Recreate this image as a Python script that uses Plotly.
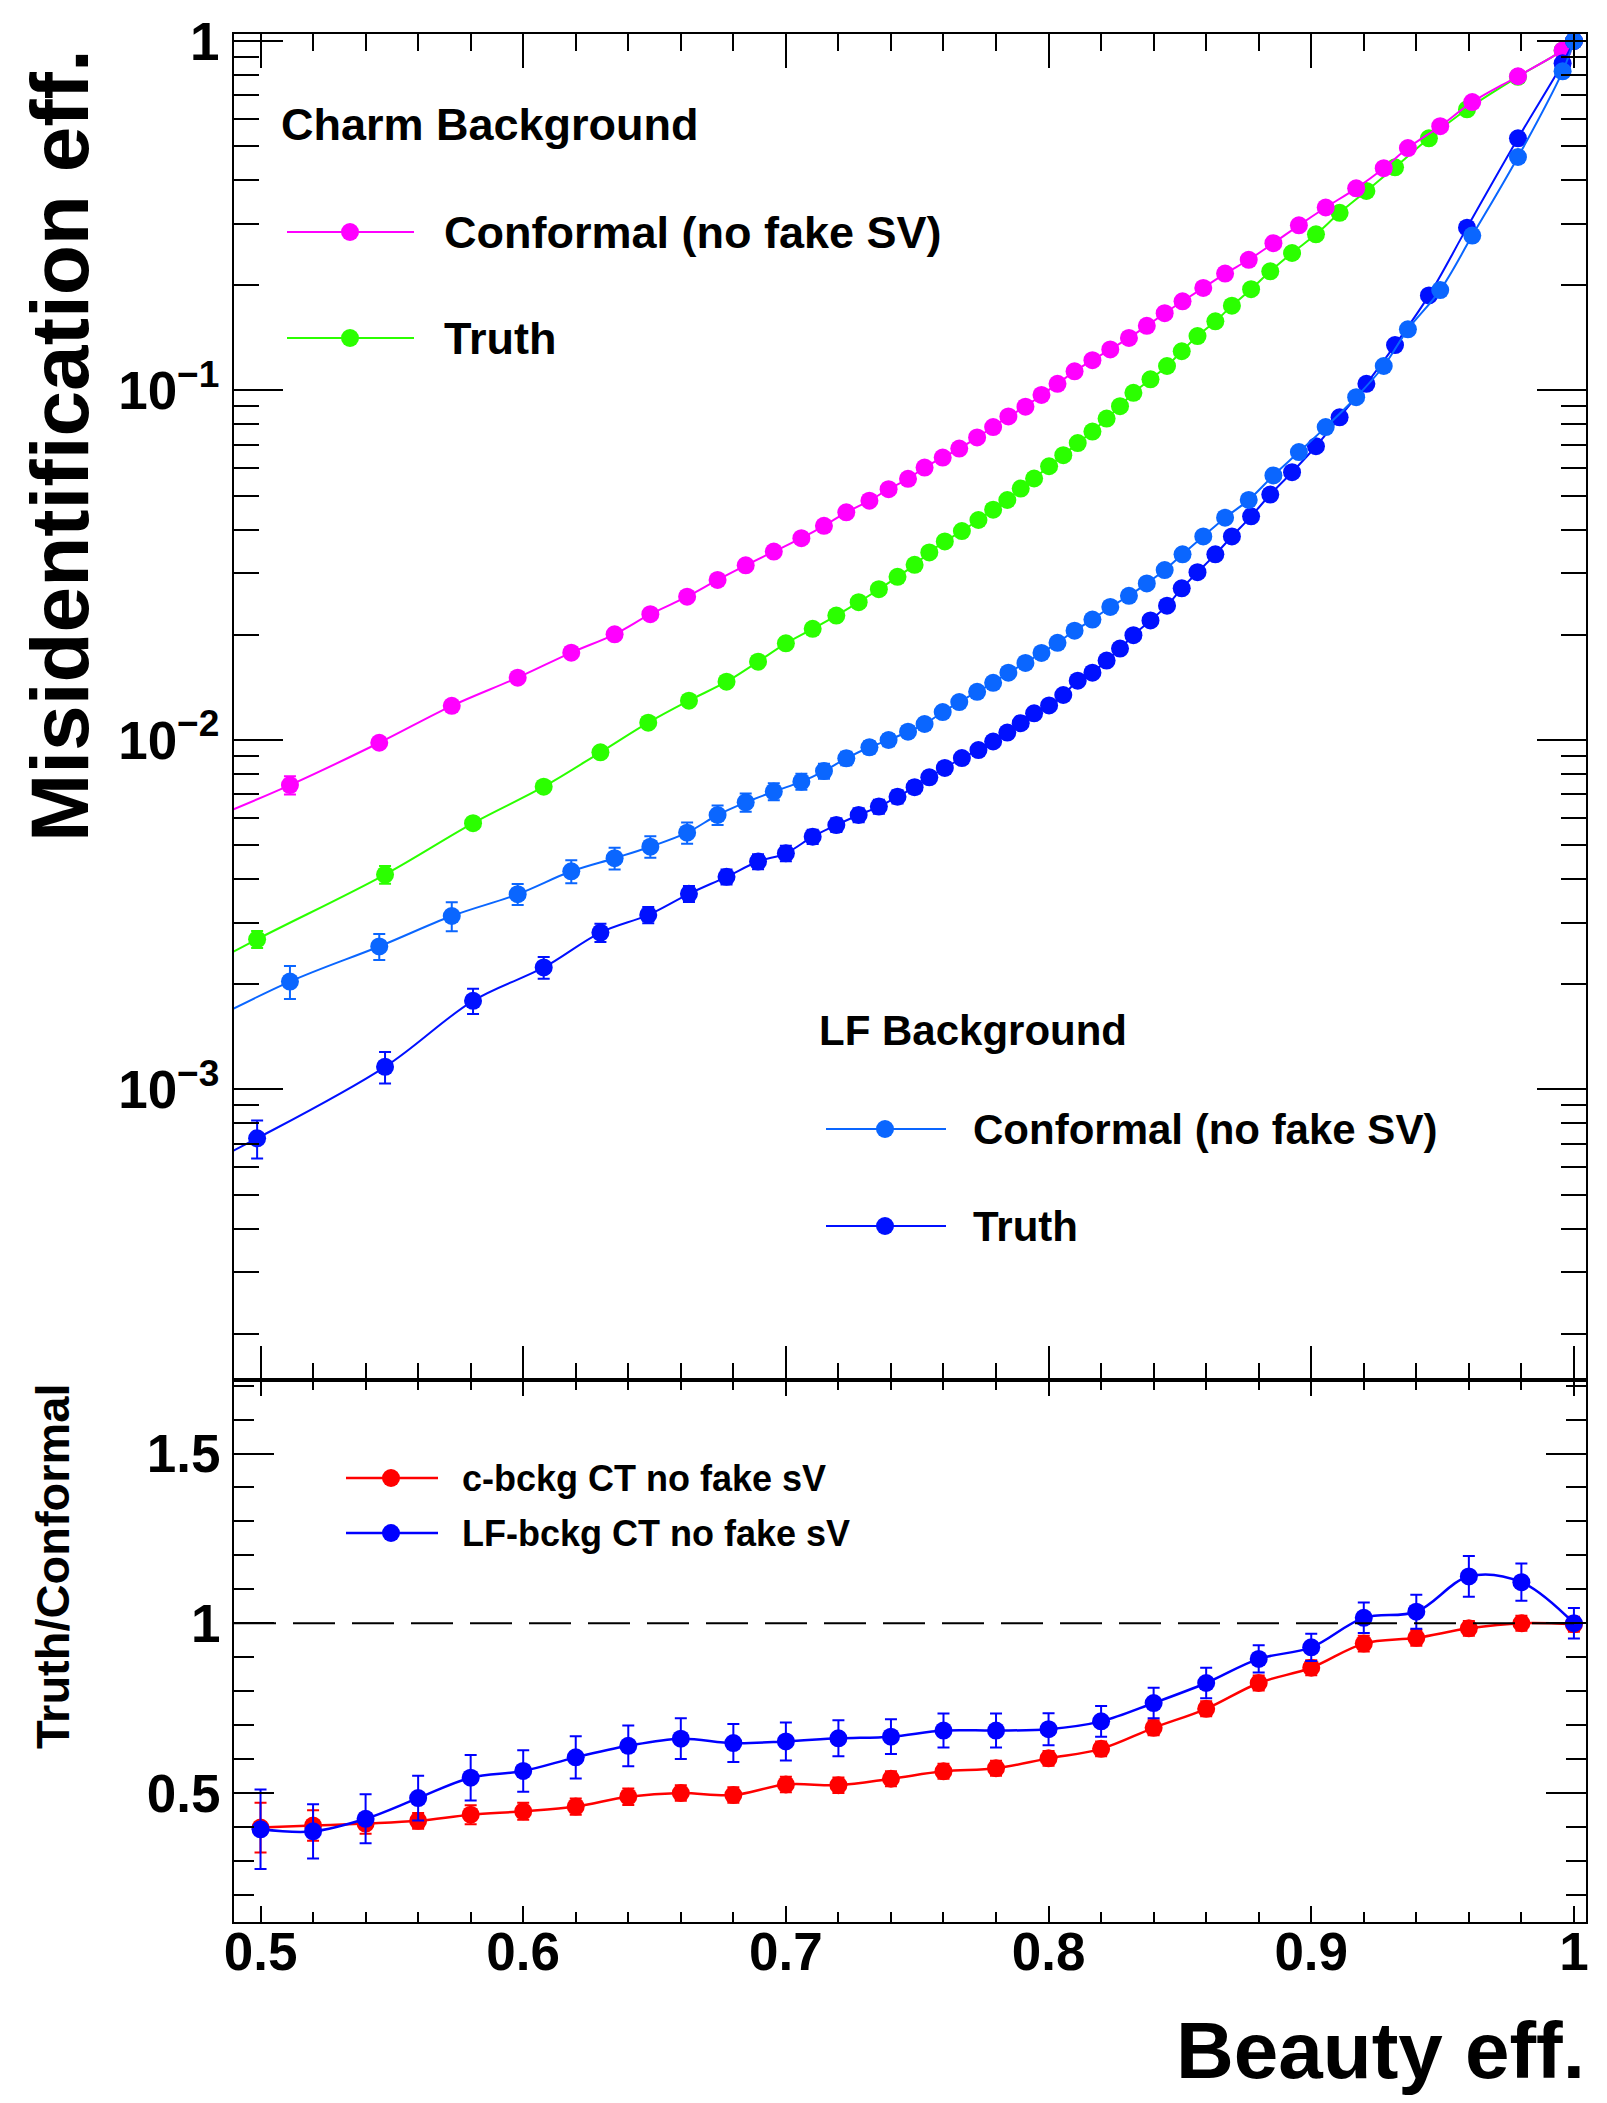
import plotly.graph_objects as go

FONT = "Liberation Sans"

# ---------------- data ----------------
# Conformal working points (beauty efficiency shared by charm & LF curves)
x_conformal = [0.47, 0.5112, 0.5452, 0.5728, 0.5979, 0.6183, 0.6348, 0.6484, 0.6624, 0.6740,
               0.6847, 0.6954, 0.7059, 0.7145, 0.7230, 0.7318, 0.7391, 0.7465, 0.7528, 0.7597,
               0.7660, 0.7728, 0.7789, 0.7847, 0.7912, 0.7973, 0.8034, 0.8099, 0.8167, 0.8235,
               0.8306, 0.8374, 0.8442, 0.8510, 0.8589, 0.8672, 0.8762, 0.8856, 0.8953, 0.9055,
               0.9171, 0.9276, 0.9368, 0.9491, 0.9613, 0.9787, 0.9957, 1.0]
charm_conformal = [0.0055, 0.00743, 0.00982, 0.01252, 0.01508, 0.01778, 0.02006, 0.0229, 0.0257, 0.0287,
                   0.0316, 0.0346, 0.0378, 0.0410, 0.0448, 0.0484, 0.0522, 0.0559, 0.0602, 0.0643,
                   0.0682, 0.0734, 0.0786, 0.0843, 0.0899, 0.0971, 0.1045, 0.1135, 0.1221, 0.1311,
                   0.1414, 0.1531, 0.1664, 0.1800, 0.1966, 0.2160, 0.2366, 0.2639, 0.2969, 0.3339,
                   0.3789, 0.4325, 0.4939, 0.5703, 0.6685, 0.7927, 0.940, 1.0]
charm_conformal_err = [0.0, 0.00045, 0.0003, 0.0003, 0.0003, 0.0003, 0.0003, 0.0003, 0.0003, 0.0003,
                       0.0003, 0.0003, 0.0003, 0.0003, 0.0003, 0.0003, 0.0003, 0.0003, 0.0003, 0.0003,
                       0.0003, 0.0003, 0.0003, 0.0003, 0.0003, 0.0003, 0.0003, 0.0003, 0.0003, 0.0003,
                       0.0003, 0.0003, 0.0003, 0.0003, 0.0003, 0.0003, 0.0003, 0.0003, 0.0003, 0.0003,
                       0.0003, 0.0003, 0.0003, 0.0003, 0.0003, 0.0003, 0.0003, 0.0]
lf_conformal = [0.00143, 0.002036, 0.002566, 0.003136, 0.00362, 0.00421, 0.00459, 0.00495, 0.00543, 0.00610,
                0.00663, 0.00712, 0.00760, 0.00815, 0.00886, 0.00953, 0.0100, 0.01056, 0.01111, 0.01202,
                0.01284, 0.01373, 0.01457, 0.01558, 0.01662, 0.01774, 0.01897, 0.02055, 0.02211, 0.02402,
                0.02585, 0.02806, 0.03064, 0.03398, 0.03823, 0.04325, 0.04864, 0.05715, 0.06664, 0.07857,
                0.09568, 0.1175, 0.1496, 0.1938, 0.2774, 0.4657, 0.8190, 1.0]
lf_conformal_err = [0.0, 0.00022, 0.00022, 0.0003, 0.00025, 0.00032, 0.00033, 0.00035, 0.00038, 0.00039,
                    0.0004, 0.0004, 0.0004, 0.0004, 0.0004, 0.0004, 0.0004, 0.0004, 0.0004, 0.0004,
                    0.0004, 0.0004, 0.0004, 0.0004, 0.0004, 0.0004, 0.0004, 0.0004, 0.0004, 0.0004,
                    0.0004, 0.0004, 0.0004, 0.0004, 0.0004, 0.0004, 0.0004, 0.0004, 0.0004, 0.0004,
                    0.0004, 0.0004, 0.0004, 0.0004, 0.0004, 0.0004, 0.0004, 0.0]

# Truth working points
x_truth = [0.47, 0.4987, 0.5474, 0.5809, 0.6078, 0.6294, 0.6476, 0.6631, 0.6774, 0.6894,
           0.7000, 0.7102, 0.7192, 0.7277, 0.7354, 0.7425, 0.7490, 0.7546, 0.7605, 0.7670,
           0.7733, 0.7789, 0.7843, 0.7894, 0.7945, 0.8002, 0.8056, 0.8111, 0.8167, 0.8221,
           0.8272, 0.8323, 0.8388, 0.8451, 0.8507, 0.8567, 0.8635, 0.8698, 0.8771, 0.8844,
           0.8927, 0.9018, 0.9108, 0.9210, 0.9319, 0.9448, 0.9593, 0.9787, 0.9957, 1.0]
charm_truth = [0.00207, 0.00269, 0.00412, 0.00578, 0.00735, 0.00922, 0.01121, 0.01296, 0.01468, 0.01675,
               0.0189, 0.0208, 0.0227, 0.0248, 0.0270, 0.0293, 0.0317, 0.0344, 0.0370, 0.0396,
               0.0426, 0.0456, 0.0486, 0.0524, 0.0560, 0.0607, 0.0653, 0.0707, 0.0763, 0.0831,
               0.0902, 0.0985, 0.1076, 0.1175, 0.1295, 0.1431, 0.1577, 0.1748, 0.1949, 0.2193,
               0.2474, 0.2798, 0.3223, 0.3723, 0.4350, 0.5266, 0.6376, 0.79, 0.94, 1.0]
charm_truth_err = [0.0, 0.00015, 0.00024, 0.0002, 0.0002, 0.00022, 0.00025, 0.00028, 0.0003, 0.0003,
                   0.0003, 0.0003, 0.0003, 0.0003, 0.0003, 0.0003, 0.0003, 0.0003, 0.0003, 0.0003,
                   0.0003, 0.0003, 0.0003, 0.0003, 0.0003, 0.0003, 0.0003, 0.0003, 0.0003, 0.0003,
                   0.0003, 0.0003, 0.0003, 0.0003, 0.0003, 0.0003, 0.0003, 0.0003, 0.0003, 0.0003,
                   0.0003, 0.0003, 0.0003, 0.0003, 0.0003, 0.0003, 0.0003, 0.0003, 0.0003, 0.0]
lf_truth = [0.000565, 0.000725, 0.001161, 0.001793, 0.002234, 0.002812, 0.003158, 0.00363, 0.00406, 0.00449,
            0.00474, 0.00529, 0.00571, 0.00610, 0.00645, 0.00688, 0.00733, 0.00782, 0.00832, 0.00888,
            0.00936, 0.00990, 0.01050, 0.01117, 0.01192, 0.01256, 0.01345, 0.01478, 0.01558, 0.01688,
            0.01826, 0.01994, 0.02199, 0.02423, 0.02716, 0.03020, 0.03398, 0.03823, 0.04364, 0.05039,
            0.05837, 0.06925, 0.08381, 0.1045, 0.1349, 0.1871, 0.2924, 0.5266, 0.8634, 1.0]
lf_truth_err = [0.0, 0.00009, 0.00012, 0.00015, 0.00016, 0.00017, 0.00017, 0.00019, 0.0002, 0.00022,
                0.00024, 0.00025, 0.00026, 0.00028, 0.0003, 0.0003, 0.0003, 0.0003, 0.0003, 0.0003,
                0.0003, 0.0003, 0.0003, 0.0003, 0.0003, 0.0003, 0.0003, 0.0003, 0.0003, 0.0003,
                0.0003, 0.0003, 0.0003, 0.0003, 0.0003, 0.0003, 0.0003, 0.0003, 0.0003, 0.0003,
                0.0003, 0.0003, 0.0003, 0.0003, 0.0003, 0.0003, 0.0003, 0.0003, 0.0003, 0.0]

# Ratio panel
ratio_x = [0.50, 0.52, 0.54, 0.56, 0.58, 0.60, 0.62, 0.64, 0.66, 0.68, 0.70, 0.72, 0.74,
           0.76, 0.78, 0.80, 0.82, 0.84, 0.86, 0.88, 0.90, 0.92, 0.94, 0.96, 0.98, 1.00]
ratio_charm = [0.398, 0.404, 0.410, 0.418, 0.436, 0.446, 0.460, 0.489, 0.500, 0.494, 0.525, 0.523, 0.542,
               0.564, 0.573, 0.602, 0.630, 0.692, 0.748, 0.824, 0.869, 0.940, 0.957, 0.985, 1.000, 0.997]
ratio_charm_err = [0.073, 0.045, 0.03, 0.023, 0.028, 0.025, 0.024, 0.024, 0.023, 0.023, 0.023, 0.023, 0.022,
                   0.022, 0.022, 0.022, 0.022, 0.022, 0.022, 0.022, 0.022, 0.023, 0.023, 0.022, 0.022, 0.022]
ratio_lf = [0.393, 0.387, 0.424, 0.485, 0.545, 0.565, 0.605, 0.639, 0.660, 0.647, 0.652, 0.661, 0.666,
            0.684, 0.684, 0.688, 0.711, 0.765, 0.824, 0.895, 0.929, 1.016, 1.034, 1.138, 1.121, 1.000]
ratio_lf_err = [0.117, 0.08, 0.072, 0.066, 0.067, 0.061, 0.062, 0.06, 0.06, 0.056, 0.056, 0.053, 0.051,
                0.05, 0.05, 0.047, 0.045, 0.045, 0.045, 0.04, 0.04, 0.045, 0.05, 0.06, 0.055, 0.045]

x_tick_vals = [0.5, 0.6, 0.7, 0.8, 0.9, 1.0]
x_tick_text = ["0.5", "0.6", "0.7", "0.8", "0.9", "1"]
y_top_tick_vals = [1, 0.1, 0.01, 0.001]
y_top_tick_text = ["1", "10<sup>\u22121</sup>", "10<sup>\u22122</sup>", "10<sup>\u22123</sup>"]
y_bot_tick_vals = [0.5, 1.0, 1.5]
y_bot_tick_text = ["0.5", "1", "1.5"]

C_MAG = "#ff00ff"
C_GREEN = "#2bff00"
C_LBLUE = "#0a66ff"
C_DBLUE = "#0010ff"
C_RED = "#ff0000"
C_BLUE = "#0000ff"

# ---------------- geometry ----------------
# the page body has an 8px margin, so the figure is drawn 8px smaller and
# positions below are given in page pixels and shifted by OFF
OFF = 8
W, H = 1607 - OFF, 2103 - OFF
L, R, T, B = 234 - OFF, 21, 34 - OFF, 181
PW = W - L - R
PH = H - T - B
SPLIT_Y = 1379.5 - OFF
split_frac = (H - B - SPLIT_Y) / PH


def px(X):
    return (X - OFF - L) / PW


def py(Y):
    return (H - B - (Y - OFF)) / PH


fig = go.Figure()

MS = 18


def add_series(x, y, err, color, xa, ya, lw=2.0, ms=MS):
    fig.add_trace(go.Scatter(
        x=x, y=y, xaxis=xa, yaxis=ya, mode="lines+markers",
        line=dict(color=color, width=lw, shape="spline", smoothing=1.0),
        marker=dict(color=color, size=ms, symbol="circle", line=dict(width=0)),
        error_y=dict(type="data", array=err, visible=True, color=color, thickness=2, width=6),
        cliponaxis=True, showlegend=False, hoverinfo="x+y"))


add_series(x_truth, charm_truth, charm_truth_err, C_GREEN, "x", "y")
add_series(x_conformal, charm_conformal, charm_conformal_err, C_MAG, "x", "y")
add_series(x_truth, lf_truth, lf_truth_err, C_DBLUE, "x", "y")
add_series(x_conformal, lf_conformal, lf_conformal_err, C_LBLUE, "x", "y")

add_series(ratio_x, ratio_charm, ratio_charm_err, C_RED, "x2", "y2", lw=2.5)
add_series(ratio_x, ratio_lf, ratio_lf_err, C_BLUE, "x2", "y2", lw=2.5)

XR = [0.4899, 1.0046]
tickfont = dict(family=FONT, size=53, color="black", weight="bold")
common = dict(showgrid=False, zeroline=False, showline=True, linecolor="black", linewidth=2,
              mirror="allticks", ticks="inside", tickcolor="black", tickwidth=2)

minor_log = [k * 10 ** e for e in (-4, -3, -2, -1) for k in range(2, 10)]

fig.update_layout(
    width=W, height=H,
    margin=dict(l=L, r=R, t=T, b=B, autoexpand=False),
    plot_bgcolor="white", paper_bgcolor="white",
    showlegend=False,
    xaxis=dict(domain=[0, 1], anchor="y", range=XR, tickmode="array", tickvals=x_tick_vals,
               showticklabels=False, ticklen=34,
               minor=dict(ticks="inside", ticklen=17, tickwidth=2, tickcolor="black", dtick=0.02, tick0=0.5),
               **common),
    yaxis=dict(domain=[split_frac, 1], anchor="x", type="log", range=[-3.8298, 0.02],
               tickmode="array", tickvals=y_top_tick_vals, ticktext=y_top_tick_text,
               tickfont=tickfont, ticklen=49, ticklabelstandoff=2,
               minor=dict(ticks="inside", ticklen=25, tickwidth=2, tickcolor="black",
                          tickmode="array", tickvals=minor_log),
               **common),
    xaxis2=dict(domain=[0, 1], anchor="y2", range=XR, tickmode="array", tickvals=x_tick_vals,
                ticktext=x_tick_text, tickfont=tickfont, ticklen=16, ticklabelstandoff=-18,
                minor=dict(ticks="inside", ticklen=10, tickwidth=2, tickcolor="black", dtick=0.02, tick0=0.5),
                **common),
    yaxis2=dict(domain=[0, split_frac], anchor="x2", range=[0.12, 1.718],
                tickmode="array", tickvals=y_bot_tick_vals, ticktext=y_bot_tick_text,
                tickfont=tickfont, ticklen=40, ticklabelstandoff=1,
                minor=dict(ticks="inside", ticklen=20, tickwidth=2, tickcolor="black", dtick=0.1, tick0=0.0),
                **common),
)

shapes = []
annotations = []

# dashed unity line in ratio panel
shapes.append(dict(type="line", xref="x2 domain", yref="y2", x0=0, x1=1, y0=1, y1=1,
                   line=dict(color="black", width=2, dash="42px,17px")))


def legend_item(x_line0, x_line1, x_mark, y, color, text, text_x, size, lw=2.0):
    shapes.append(dict(type="line", xref="paper", yref="paper", x0=px(x_line0), x1=px(x_line1),
                       y0=py(y), y1=py(y), line=dict(color=color, width=lw)))
    shapes.append(dict(type="circle", xref="paper", yref="paper", xsizemode="pixel", ysizemode="pixel",
                       xanchor=px(x_mark), yanchor=py(y), x0=-MS / 2, x1=MS / 2, y0=-MS / 2, y1=MS / 2,
                       fillcolor=color, line=dict(width=0)))
    annotations.append(dict(xref="paper", yref="paper", x=px(text_x), y=py(y), xanchor="left",
                            yanchor="middle", showarrow=False, text=text,
                            font=dict(family=FONT, size=size, color="black", weight="bold")))


def label(x, y, text, size, xanchor="left", angle=0):
    annotations.append(dict(xref="paper", yref="paper", x=px(x), y=py(y), xanchor=xanchor,
                            yanchor="middle", showarrow=False, text=text, textangle=angle,
                            font=dict(family=FONT, size=size, color="black", weight="bold")))


# Charm legend
label(279, 125, "Charm Background", 45)
legend_item(287, 414, 350, 232, C_MAG, "Conformal (no fake SV)", 442, 45)
legend_item(287, 414, 350, 338, C_GREEN, "Truth", 442, 45)

# LF legend
label(817, 1030, "LF Background", 42)
legend_item(826, 946, 885, 1129, C_LBLUE, "Conformal (no fake SV)", 971, 42)
legend_item(826, 946, 885, 1226, C_DBLUE, "Truth", 971, 42)

# ratio legend
legend_item(346, 438, 391, 1478, C_RED, "c-bckg CT no fake sV", 460, 36, lw=2.5)
legend_item(346, 438, 391, 1533, C_BLUE, "LF-bckg CT no fake sV", 460, 36, lw=2.5)

# axis titles
label(60, 446, "Misidentification eff.", 82, xanchor="center", angle=-90)
label(52, 1566, "Truth/Conformal", 47, xanchor="center", angle=-90)
label(1587, 2050, "Beauty eff.", 80, xanchor="right")

fig.update_layout(shapes=shapes, annotations=annotations)

fig.write_html("out.html")
